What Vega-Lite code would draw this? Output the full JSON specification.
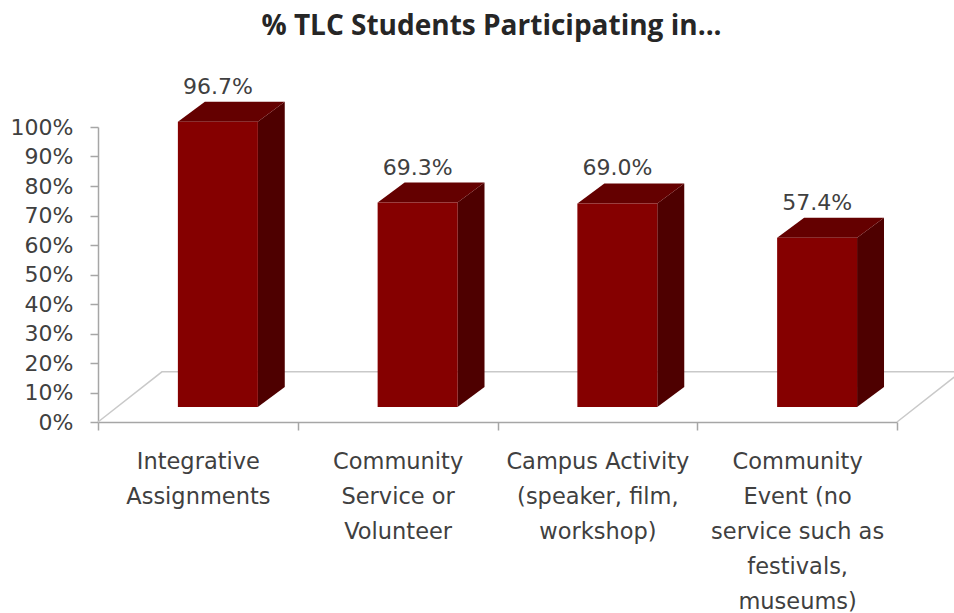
{
  "$schema": "https://vega.github.io/schema/vega-lite/v6.json",
  "autosize": {"type": "none"},
  "padding": {"left": 98, "top": 127, "right": 57, "bottom": 191},
  "width": 799,
  "height": 295,
  "background": "white",
  "view": {"stroke": null},
  "config": {"axisY": {"tickCount": 11, "labelOverlap": false}},
  "title": {
    "text": "% TLC Students Participating in...",
    "font": "Open Sans",
    "fontWeight": "bold",
    "fontSize": 28,
    "color": "#262626",
    "anchor": "middle",
    "dx": -6,
    "offset": 35
  },
  "datasets": {
    "activities": [
      {"activity": "Integrative|Assignments", "slot": 0, "value": 96.7},
      {"activity": "Community|Service or|Volunteer", "slot": 1, "value": 69.3},
      {"activity": "Campus Activity|(speaker, film,|workshop)", "slot": 2, "value": 69.0},
      {"activity": "Community|Event (no|service such as|festivals,|museums)", "slot": 3, "value": 57.4}
    ],
    "floor": [
      {"step": 0, "across": 0, "rise": 0},
      {"step": 1, "across": 0.32, "rise": 17},
      {"step": 2, "across": 4.32, "rise": 17},
      {"step": 3, "across": 4, "rise": 0}
    ]
  },
  "encoding": {},
  "layer": [
    {
      "data": {"name": "floor"},
      "mark": {"type": "line", "color": "#c9c9c9", "strokeWidth": 1.5, "clip": false},
      "encoding": {
        "x": {"field": "across", "type": "quantitative", "scale": {"domain": [0, 4], "nice": false}, "axis": null},
        "y": {"field": "rise", "type": "quantitative", "scale": {"domain": [0, 100], "nice": false},
          "axis": {
            "labelExpr": "datum.value + '%'",
            "title": null,
            "grid": false,
            "domainColor": "#a6a6a6",
            "tickColor": "#a6a6a6",
            "domainWidth": 1.5,
            "tickWidth": 1.5,
            "tickSize": 8,
            "labelFont": "DejaVu Sans",
            "labelFontSize": 22,
            "labelColor": "#404040",
            "labelPadding": 17
          }
        },
        "order": {"field": "step", "type": "ordinal"}
      }
    },
    {
      "data": {"name": "activities"},
      "transform": [
        {"calculate": "[{u: 0, k: 0}, {u: 0.135, k: 1}]", "as": "corner"},
        {"flatten": ["corner"]},
        {"calculate": "datum.slot + 0.8 + datum.corner.u", "as": "across"},
        {"calculate": "datum.value + 5.08 + datum.corner.k * 6.78", "as": "upper"},
        {"calculate": "5.08 + datum.corner.k * 6.78", "as": "lower"}
      ],
      "mark": {"type": "area", "color": "#4e0000", "opacity": 1},
      "encoding": {
        "x": {"field": "across", "type": "quantitative", "scale": {"domain": [0, 4], "nice": false}, "axis": null},
        "y": {"field": "upper", "type": "quantitative"},
        "y2": {"field": "lower"},
        "detail": {"field": "slot"}
      }
    },
    {
      "data": {"name": "activities"},
      "transform": [
        {"calculate": "[{u: 0, a: 0, b: 0}, {u: 0.135, a: 0, b: 1}, {u: 0.4, a: 0, b: 1}, {u: 0.535, a: 1, b: 1}]", "as": "corner"},
        {"flatten": ["corner"]},
        {"calculate": "datum.slot + 0.4 + datum.corner.u", "as": "across"},
        {"calculate": "datum.value + 5.08 + datum.corner.b * 6.78", "as": "upper"},
        {"calculate": "datum.value + 5.08 + datum.corner.a * 6.78", "as": "lower"}
      ],
      "mark": {"type": "area", "color": "#640000", "opacity": 1},
      "encoding": {
        "x": {"field": "across", "type": "quantitative", "scale": {"domain": [0, 4], "nice": false}, "axis": null},
        "y": {"field": "upper", "type": "quantitative"},
        "y2": {"field": "lower"},
        "detail": {"field": "slot"}
      }
    },
    {
      "data": {"name": "activities"},
      "transform": [
        {"calculate": "datum.value + 5.08", "as": "upper"},
        {"calculate": "5.08", "as": "lower"}
      ],
      "mark": {"type": "bar", "color": "#850000", "width": 80, "xOffset": 20},
      "encoding": {
        "x": {
          "field": "activity",
          "type": "nominal",
          "sort": {"field": "slot"},
          "scale": {"paddingInner": 0, "paddingOuter": 0},
          "axis": {
            "title": null,
            "labelAngle": 0,
            "labelExpr": "split(datum.label, '|')",
            "labelFont": "DejaVu Sans",
            "labelFontSize": 22.5,
            "labelColor": "#404040",
            "labelLineHeight": 35,
            "labelPadding": 20,
            "labelLimit": 0,
            "domainColor": "#a6a6a6",
            "tickColor": "#a6a6a6",
            "domainWidth": 1.5,
            "tickWidth": 1.5,
            "tickSize": 8,
            "tickBand": "extent"
          }
        },
        "y": {"field": "upper", "type": "quantitative"},
        "y2": {"field": "lower"}
      }
    },
    {
      "data": {"name": "activities"},
      "transform": [
        {"calculate": "datum.slot + 0.6", "as": "across"},
        {"calculate": "format(datum.value, '.1f') + '%'", "as": "caption"}
      ],
      "mark": {"type": "text", "font": "DejaVu Sans", "fontSize": 22, "color": "#404040", "dy": -50},
      "encoding": {
        "x": {"field": "across", "type": "quantitative", "scale": {"domain": [0, 4], "nice": false}, "axis": null},
        "y": {"field": "value", "type": "quantitative"},
        "text": {"field": "caption", "type": "nominal"}
      }
    }
  ],
  "resolve": {"scale": {"x": "independent"}}
}
